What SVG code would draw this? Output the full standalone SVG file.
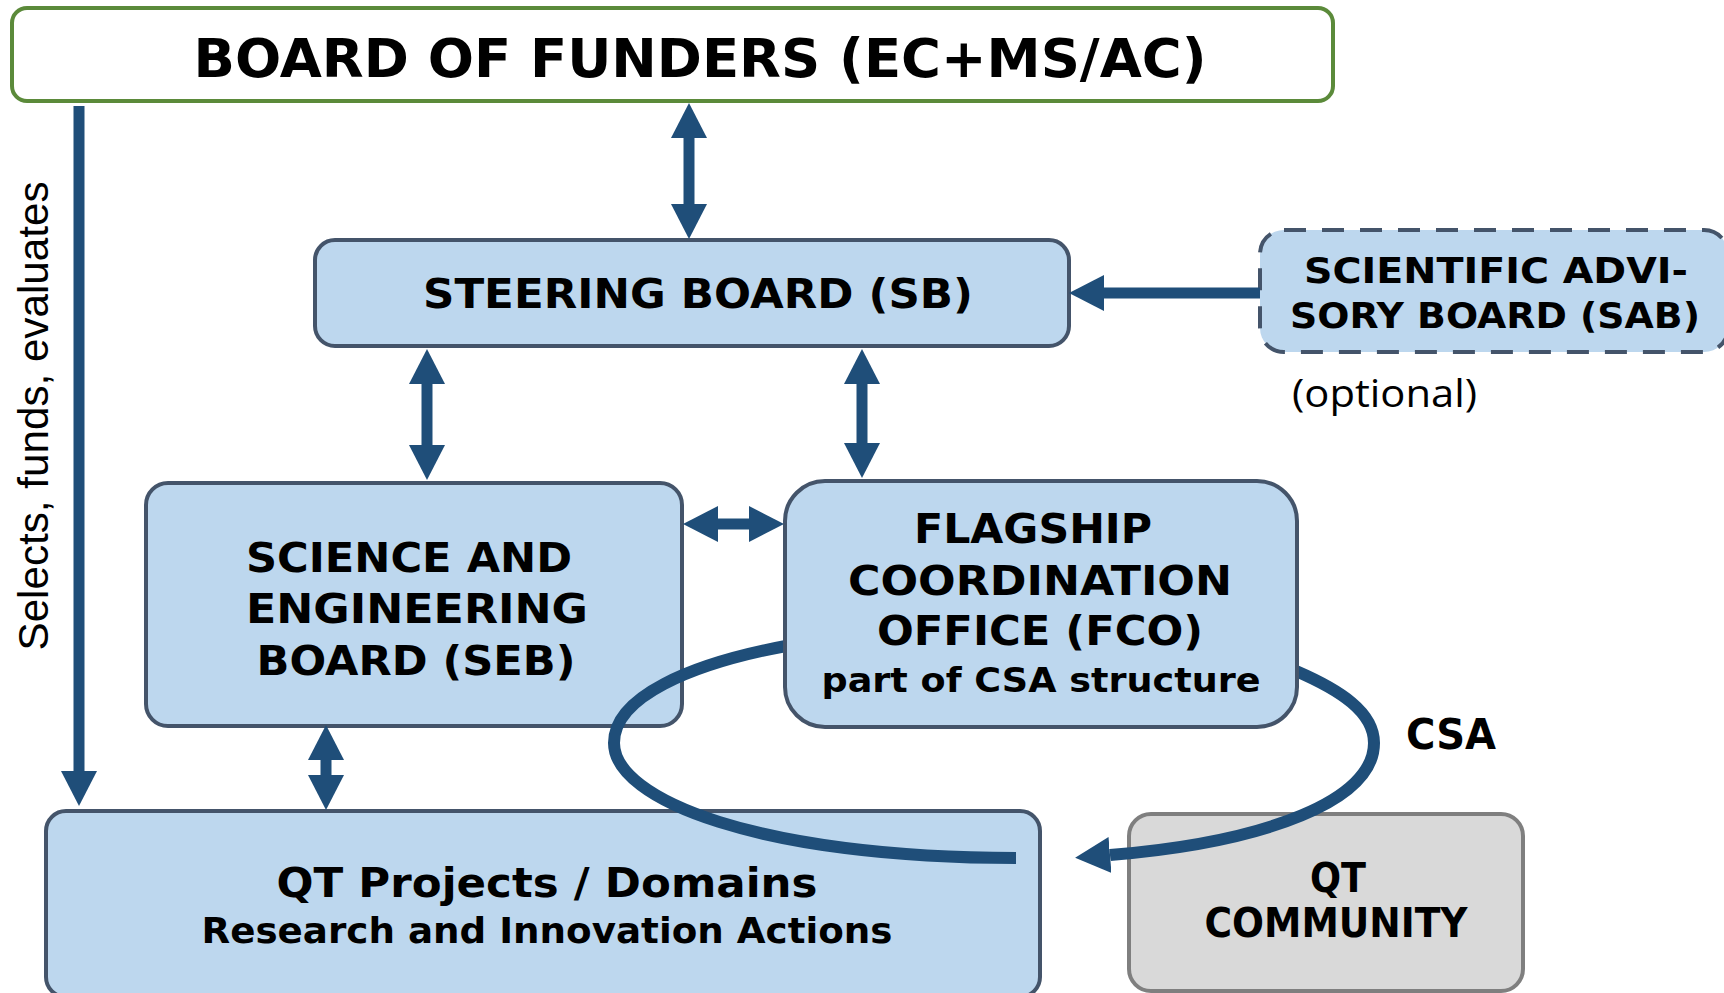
<svg xmlns="http://www.w3.org/2000/svg" width="1724" height="993" viewBox="0 0 1724 993">
  <style>
    .box { fill: #BDD7EE; stroke: #44546A; stroke-width: 4; }
    .grey { fill: #D9D9D9; stroke: #7F7F7F; stroke-width: 4; }
    .t { font-family: "DejaVu Sans", Verdana, sans-serif; font-weight: bold; fill: #000; text-anchor: middle; }
    .shaft { stroke: #1F4E79; stroke-width: 11; fill: none; }
    .loop { stroke: #1F4E79; stroke-width: 12; fill: none; }
  </style>
  <defs>
    <marker id="head" markerUnits="userSpaceOnUse" markerWidth="35" markerHeight="36" viewBox="0 0 35 36" refX="0" refY="18" orient="auto-start-reverse">
      <path d="M0,0 L35,18 L0,36 Z" fill="#1F4E79"/>
    </marker>
  </defs>
  <rect width="1724" height="993" fill="#FFFFFF"/>

  <g id="board-of-funders">
    <rect x="12" y="8" width="1321" height="93" rx="15" fill="#FFFFFF" stroke="#5B8A3A" stroke-width="4"/>
    <text class="t" x="700" y="77" font-size="53" textLength="1013" lengthAdjust="spacingAndGlyphs">BOARD OF FUNDERS (EC+MS/AC)</text>
  </g>

  <g id="steering-board">
    <rect class="box" x="315" y="240" width="754" height="106" rx="20"/>
    <text class="t" x="698" y="308" font-size="41" textLength="550" lengthAdjust="spacingAndGlyphs">STEERING BOARD (SB)</text>
  </g>

  <g id="scientific-advisory-board">
    <rect class="box" x="1260" y="230" width="468" height="122" rx="24" stroke-dasharray="22 16"/>
    <text class="t" x="1496" y="283" font-size="36" textLength="384" lengthAdjust="spacingAndGlyphs">SCIENTIFIC ADVI-</text>
    <text class="t" x="1495" y="328" font-size="36" textLength="410" lengthAdjust="spacingAndGlyphs">SORY BOARD (SAB)</text>
    <text x="1292" y="407" font-family="'Open Sans', 'Liberation Sans', sans-serif" font-size="38" textLength="185" lengthAdjust="spacingAndGlyphs">(optional)</text>
  </g>

  <g id="science-engineering-board">
    <rect class="box" x="146" y="483" width="536" height="243" rx="22"/>
    <text class="t" x="409" y="572" font-size="41" textLength="326" lengthAdjust="spacingAndGlyphs">SCIENCE AND</text>
    <text class="t" x="417" y="623" font-size="41" textLength="342" lengthAdjust="spacingAndGlyphs">ENGINEERING</text>
    <text class="t" x="416" y="675" font-size="41" textLength="319" lengthAdjust="spacingAndGlyphs">BOARD (SEB)</text>
  </g>

  <g id="qt-projects">
    <rect class="box" x="46" y="811" width="994" height="186" rx="20"/>
    <text class="t" x="547" y="897" font-size="41" textLength="541" lengthAdjust="spacingAndGlyphs">QT Projects / Domains</text>
    <text class="t" x="547" y="943" font-size="36" textLength="691" lengthAdjust="spacingAndGlyphs">Research and Innovation Actions</text>
  </g>

  <g id="qt-community">
    <rect class="grey" x="1129" y="814" width="394" height="177" rx="22"/>
    <text class="t" x="1338" y="892" font-size="40" textLength="56" lengthAdjust="spacingAndGlyphs">QT</text>
    <text class="t" x="1336" y="937" font-size="40" textLength="263" lengthAdjust="spacingAndGlyphs">COMMUNITY</text>
  </g>

  <g id="connectors">
    <!-- funders select, fund and evaluate the projects -->
    <line class="shaft" x1="79" y1="106" x2="79" y2="771" stroke-width="10" marker-end="url(#head)"/>
    <text x="48" y="416" transform="rotate(-90 48 416)" font-family="'Liberation Sans', Arial, sans-serif" font-size="42" text-anchor="middle" textLength="469" lengthAdjust="spacingAndGlyphs">Selects, funds, evaluates</text>
    <!-- board of funders <-> steering board -->
    <line class="shaft" x1="689" y1="138" x2="689" y2="204" marker-start="url(#head)" marker-end="url(#head)"/>
    <!-- advisory board -> steering board -->
    <line class="shaft" x1="1260" y1="293" x2="1104" y2="293" marker-end="url(#head)"/>
    <!-- steering board <-> SEB -->
    <line class="shaft" x1="427" y1="384" x2="427" y2="445" marker-start="url(#head)" marker-end="url(#head)"/>
    <!-- steering board <-> FCO -->
    <line class="shaft" x1="862" y1="384" x2="862" y2="443" marker-start="url(#head)" marker-end="url(#head)"/>
    <!-- SEB <-> FCO -->
    <line class="shaft" x1="718" y1="524" x2="749" y2="524" marker-start="url(#head)" marker-end="url(#head)"/>
    <!-- SEB <-> projects -->
    <line class="shaft" x1="326" y1="760" x2="326" y2="775" marker-start="url(#head)" marker-end="url(#head)"/>
    <!-- CSA loop around the coordination office -->
    <path class="loop" d="M786,646 C690,664 614,697 614,743 C614,800 760,858 1016,858"/>
    <path class="loop" d="M1296,671 C1340,690 1374,712 1374,743 C1374,800 1268,842 1110,855" marker-end="url(#head)"/>
    <text class="t" x="1451" y="749" font-size="42" textLength="90" lengthAdjust="spacingAndGlyphs">CSA</text>
  </g>

  <g id="flagship-coordination-office">
    <rect class="box" x="785" y="481" width="512" height="246" rx="40"/>
    <text class="t" x="1033" y="543" font-size="41" textLength="238" lengthAdjust="spacingAndGlyphs">FLAGSHIP</text>
    <text class="t" x="1040" y="595" font-size="41" textLength="384" lengthAdjust="spacingAndGlyphs">COORDINATION</text>
    <text class="t" x="1040" y="645" font-size="41" textLength="326" lengthAdjust="spacingAndGlyphs">OFFICE (FCO)</text>
    <text class="t" x="1041" y="692" font-size="34" textLength="439" lengthAdjust="spacingAndGlyphs">part of CSA structure</text>
  </g>
</svg>
